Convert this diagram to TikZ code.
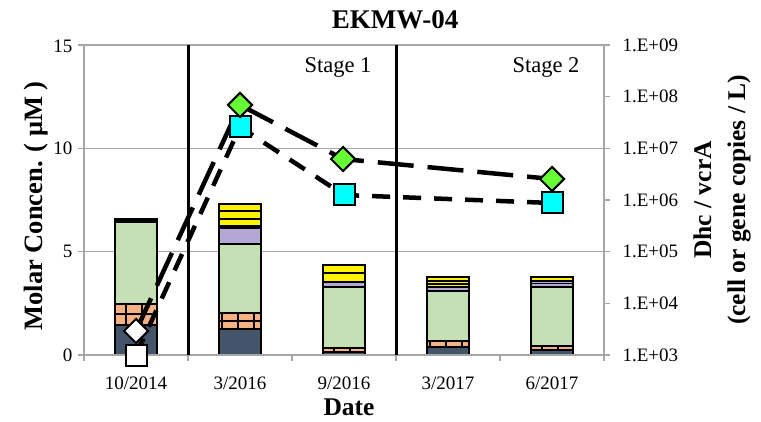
\documentclass[tikz,border=0pt]{standalone}
\usepackage{fontspec}
\setmainfont{Liberation Serif}
\usetikzlibrary{shapes.geometric}
\definecolor{navy}{HTML}{44546A}
\definecolor{peach}{HTML}{F4B183}
\definecolor{lgreen}{HTML}{C5E0B4}
\definecolor{lilac}{HTML}{B4A7D6}
\definecolor{gridc}{HTML}{A6A6A6}
\definecolor{mgreen}{HTML}{66FF33}
\definecolor{aqua}{HTML}{00FFFF}
\begin{document}
\begin{tikzpicture}[x=1pt,y=-1pt,
 seg/.style={draw=black,line width=1.2pt},
 thin/.style={draw=black,line width=1.1pt},
 gridline/.style={draw=gridc,line width=1.3pt},
 sepline/.style={draw=black,line width=3pt},
 dmark/.style={diamond,draw=black,line width=2pt,fill=mgreen,minimum width=25pt,minimum height=25pt,inner sep=0pt},
 smark/.style={rectangle,draw=black,line width=2pt,fill=aqua,minimum size=21pt,inner sep=0pt},
 dline/.style={line width=4.5pt,dash pattern=on 36pt off 14pt},
 sline/.style={line width=4.5pt,dash pattern=on 18pt off 13pt},
 ticklab/.style={font=\fontsize{19}{22}\selectfont},
 stagelab/.style={font=\fontsize{22.5}{26}\selectfont},
 axtitle/.style={font=\bfseries\fontsize{25.5}{34}\selectfont}]
\useasboundingbox (0,0) rectangle (761,422);
\fill[white] (0,0) rectangle (761,422);
% grid
\draw[gridline] (84,45) -- (604,45);
\draw[gridline] (84,148.3) -- (604,148.3);
\draw[gridline] (84,251.7) -- (604,251.7);
% bar 1
\fill[navy,seg] (115,325) rectangle (157,355);
\fill[peach,seg] (115,304) rectangle (157,325);
\draw[thin] (115,314) -- (157,314) (126,304) -- (126,325) (142,304) -- (142,325);
\fill[lgreen,seg] (115,222) rectangle (157,304);
\fill[black] (114.4,218.5) rectangle (157.6,222.5);
% bar 2
\fill[navy,seg] (219,329) rectangle (261,355);
\fill[peach,seg] (219,313) rectangle (261,329);
\draw[thin] (219,321) -- (261,321) (222,313) -- (222,329) (238,313) -- (238,329) (254,313) -- (254,329);
\fill[lgreen,seg] (219,244) rectangle (261,313);
\fill[lilac,seg] (219,228) rectangle (261,244);
\fill[yellow,seg] (219,204) rectangle (261,228);
\draw[thin] (219,211) -- (261,211) (219,219) -- (261,219) (219,226) -- (261,226);
% bar 3
\fill[navy,seg] (323,352) rectangle (365,355);
\fill[peach,seg] (323,348) rectangle (365,352);
\draw[thin] (334,348) -- (334,352) (350,348) -- (350,352);
\fill[lgreen,seg] (323,287) rectangle (365,348);
\fill[lilac,seg] (323,282) rectangle (365,287);
\fill[yellow,seg] (323,265) rectangle (365,282);
\draw[thin] (323,273) -- (365,273);
% bar 4
\fill[navy,seg] (427,347) rectangle (469,355);
\fill[peach,seg] (427,341) rectangle (469,347);
\draw[thin] (430,341) -- (430,347) (446,341) -- (446,347) (462,341) -- (462,347);
\fill[lgreen,seg] (427,291) rectangle (469,341);
\fill[lilac,seg] (427,287) rectangle (469,291);
\fill[yellow,seg] (427,277) rectangle (469,287);
\draw[thin] (427,281) -- (469,281) (427,284) -- (469,284);
% bar 5
\fill[navy,seg] (531,350) rectangle (573,355);
\fill[peach,seg] (531,346) rectangle (573,350);
\draw[thin] (542,346) -- (542,350) (558,346) -- (558,350);
\fill[lgreen,seg] (531,287) rectangle (573,346);
\fill[lilac,seg] (531,281) rectangle (573,287);
\draw[thin] (531,283.5) -- (573,283.5);
\fill[yellow,seg] (531,277) rectangle (573,281);
% axes
\draw[gridline] (84,45) -- (84,355) -- (604,355) -- (604,45);
\foreach \y in {45,148.3,251.7,355} \draw[gridline] (78,\y) -- (84,\y);
\foreach \y in {45,96.7,148.3,200,251.7,303.3,355} \draw[gridline] (604,\y) -- (610,\y);
\foreach \x in {84,188,292,396,500,604} \draw[gridline] (\x,355) -- (\x,361);
% stage separators
\draw[sepline] (188,45) -- (188,355);
\draw[sepline] (396,45) -- (396,355);
% series coordinates
\coordinate (d1) at (136,331);
\coordinate (d2) at (240,105);
\coordinate (d3) at (343,159);
\coordinate (d5) at (552,179);
\coordinate (s1) at (136,355);
\coordinate (s2) at (240,127);
\coordinate (s3) at (344,195);
\coordinate (s5) at (552,203);
\draw[dline] (d1) -- (d2) -- (d3) -- (d5);
\draw[sline] (s1) -- (s2) -- (s3) -- (s5);
\node[dmark,fill=white] (D1) at (d1) {};
\node[smark,fill=white] (S1) at (s1) {};
\node[smark] (S2) at (s2) {};
\node[dmark] (D2) at (d2) {};
\node[smark] (S3) at (s3) {};
\node[dmark] (D3) at (d3) {};
\node[smark] (S5) at (s5) {};
\node[dmark] (D5) at (d5) {};
% texts
\node[font=\bfseries\fontsize{27}{30}\selectfont] (title) at (395,20) {EKMW-04};
\node[stagelab] (st1) at (338,67) {Stage 1};
\node[stagelab] (st2) at (546,67) {Stage 2};
\node[ticklab,anchor=east] (l15) at (76,46) {15};
\node[ticklab,anchor=east] (l10) at (76,148.3) {10};
\node[ticklab,anchor=east] (l5) at (76,251.7) {5};
\node[ticklab,anchor=east] (l0) at (76,355) {0};
\node[ticklab,anchor=west] (r9) at (619,45) {1.E+09};
\node[ticklab,anchor=west] (r8) at (619,96.7) {1.E+08};
\node[ticklab,anchor=west] (r7) at (619,148.3) {1.E+07};
\node[ticklab,anchor=west] (r6) at (619,200) {1.E+06};
\node[ticklab,anchor=west] (r5) at (619,251.7) {1.E+05};
\node[ticklab,anchor=west] (r4) at (619,303.3) {1.E+04};
\node[ticklab,anchor=west] (r3) at (619,355) {1.E+03};
\node[ticklab] (x1) at (136,383) {10/2014};
\node[ticklab] (x2) at (240,383) {3/2016};
\node[ticklab] (x3) at (344,383) {9/2016};
\node[ticklab] (x4) at (448,383) {3/2017};
\node[ticklab] (x5) at (552,383) {6/2017};
\node[axtitle] (xt) at (349,407) {Date};
\node[axtitle,rotate=90,font=\bfseries\fontsize{26.5}{34}\selectfont] (yt) at (36,206) {Molar Concen. ( μM )};
\node[axtitle,rotate=90,align=center] (yt2) at (722,200) {Dhc / vcrA\\(cell or gene copies / L)};
\end{tikzpicture}
\end{document}
